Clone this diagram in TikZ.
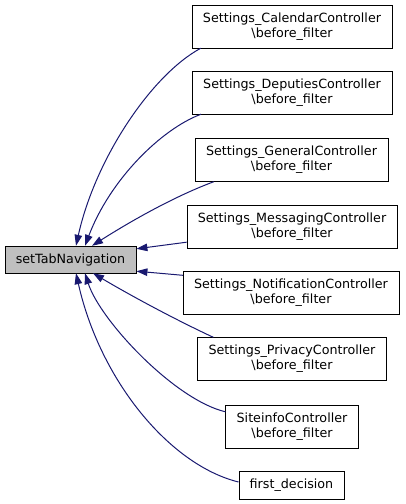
\documentclass[tikz,border=0pt]{standalone}
\usepackage{fontspec}
\setmainfont{DejaVu Sans}
\usetikzlibrary{arrows.meta}
\definecolor{midnightblue}{RGB}{25,25,112}

\begin{document}
\begin{tikzpicture}[x=1pt,y=-1pt,>={Triangle[length=11pt,width=7.5pt]},
  font=\fontsize{12.7}{15}\selectfont,
  caller/.style={draw=black,fill=white,align=center,inner xsep=11pt,inner ysep=0pt,minimum height=43pt},
  leaf/.style={caller,minimum height=28pt},
  root/.style={draw=black,fill=black!25,inner xsep=11pt,inner ysep=0pt,minimum height=27pt},
  call/.style={->,draw=midnightblue,line width=1pt}]
\useasboundingbox (0,0) rectangle (405,504);
\node[root] (stn) at (70.5,259.5) {setTabNavigation};
\node[caller] (cal) at (292,26.5) {Settings\_CalendarController\\\textbackslash before\_filter};
\node[caller] (dep) at (292,92.5) {Settings\_DeputiesController\\\textbackslash before\_filter};
\node[caller] (gen) at (291.5,160) {Settings\_GeneralController\\\textbackslash before\_filter};
\node[caller] (msg) at (292,226.5) {Settings\_MessagingController\\\textbackslash before\_filter};
\node[caller] (ntf) at (291,293) {Settings\_NotificationController\\\textbackslash before\_filter};
\node[caller] (prv) at (292,359) {Settings\_PrivacyController\\\textbackslash before\_filter};
\node[caller] (sit) at (292,426.5) {SiteinfoController\\\textbackslash before\_filter};
\node[leaf] (fst) at (291.5,485) {first\_decision};

\draw[call] ([xshift=9pt]cal.south west) .. controls +(-50,27) and +(19,-86) .. ([xshift=5.5pt]stn.north);
\draw[call] ([xshift=9pt]dep.south west) .. controls +(-40,15) and +(25,-66) .. ([xshift=14.5pt]stn.north);
\draw[call] ([xshift=19pt]gen.south west) .. controls +(-43,16) and +(33,-21) .. ([xshift=21.5pt]stn.north);
\draw[call] ([yshift=6pt]msg.south west) -- ([yshift=-3pt]stn.north east);
\draw[call] ([yshift=-4pt]ntf.north west) -- ([yshift=2pt]stn.south east);
\draw[call] ([xshift=16pt]prv.north west) .. controls +(-43,-20) and +(32,19) .. ([xshift=22.5pt]stn.south);
\draw[call] ([yshift=-7pt]sit.north west) .. controls +(-51,-12) and +(15,47) .. ([xshift=14.5pt]stn.south);
\draw[call] ([yshift=3pt]fst.west) .. controls +(-69,-17) and +(24,107) .. ([xshift=5.5pt]stn.south);
\end{tikzpicture}
\end{document}
